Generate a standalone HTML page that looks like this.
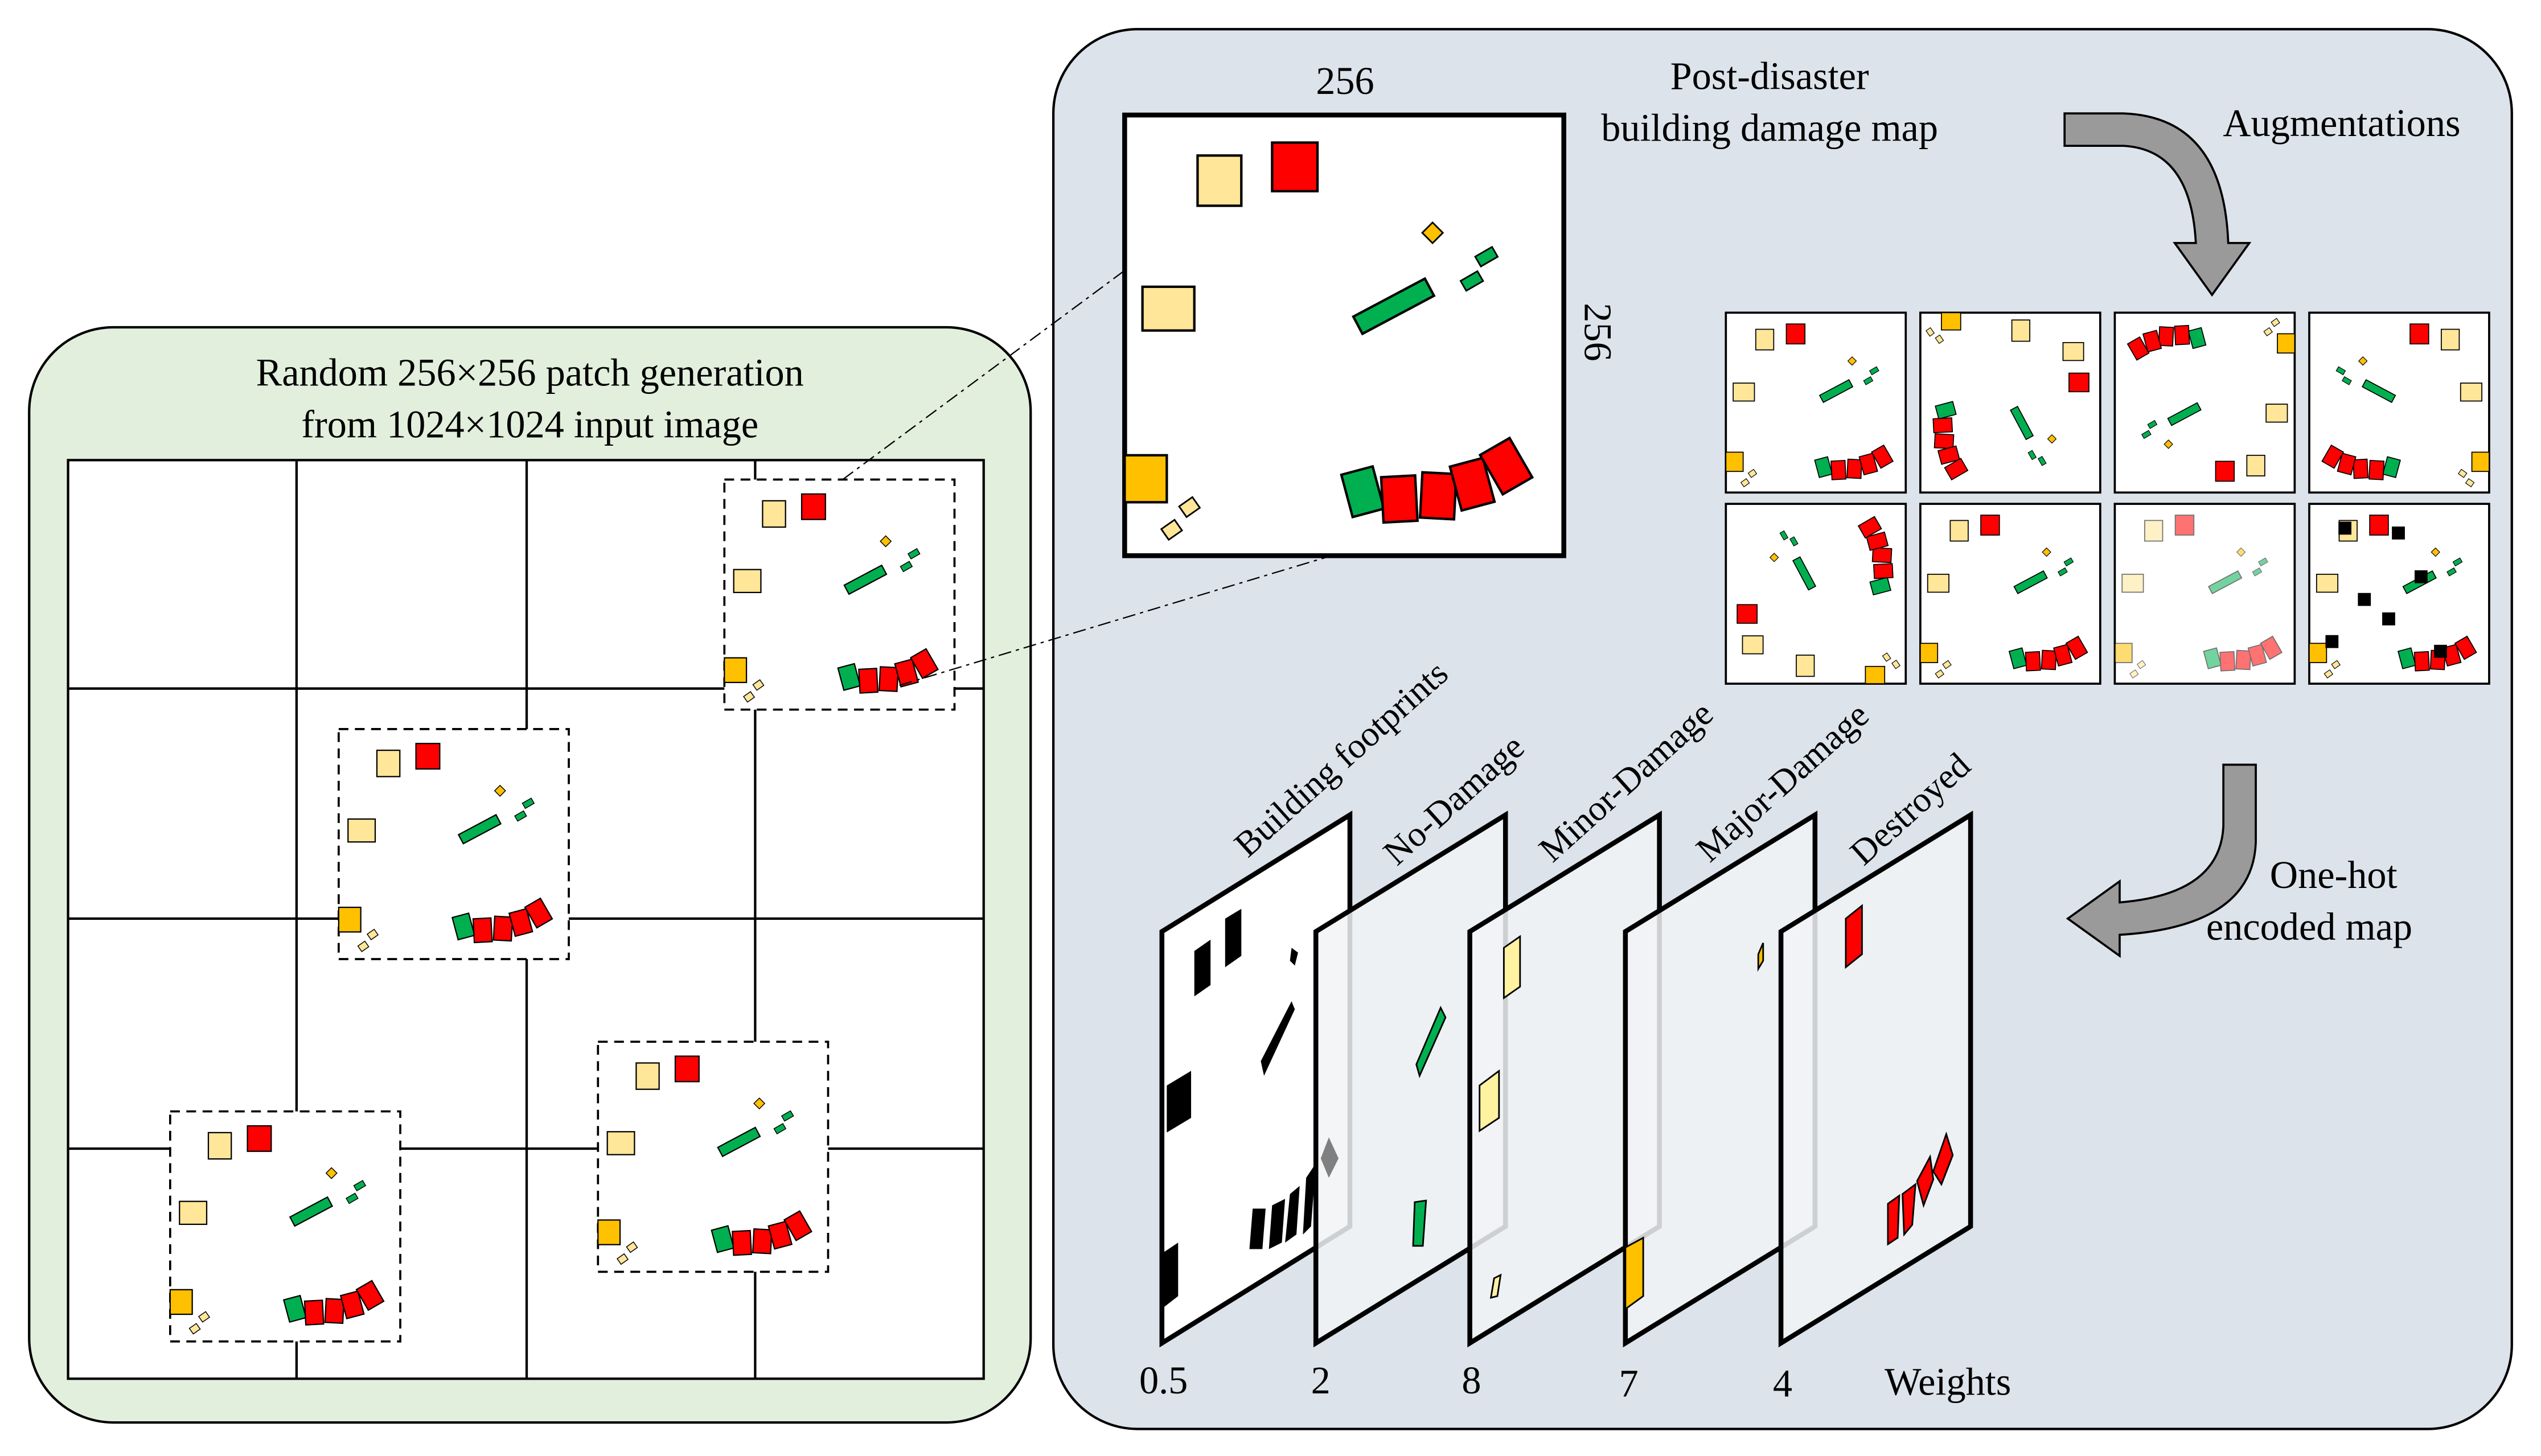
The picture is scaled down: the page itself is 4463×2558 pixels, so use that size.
<!DOCTYPE html>
<html><head><meta charset="utf-8"><style>
html,body{margin:0;padding:0;background:#fff}
svg{display:block}
svg, svg text{font-family:"Liberation Serif","DejaVu Serif",serif}
</style></head><body>
<svg width="4463" height="2558" viewBox="0 0 1568 898.7" preserveAspectRatio="none" xmlns="http://www.w3.org/2000/svg" font-family="Liberation Serif, serif">
<defs>
<g id="m">
 <rect x="45" y="25" width="27" height="31" fill="#ffe699" stroke="#000" stroke-width="1.5"/>
 <rect x="91" y="17" width="28" height="30" fill="#ff0000" stroke="#000" stroke-width="1.5"/>
 <rect x="11" y="106" width="32" height="27" fill="#ffe699" stroke="#000" stroke-width="1.5"/>
 <rect x="186" y="68" width="9" height="9" fill="#ffc000" stroke="#000" transform="rotate(45 190 72)"/>
 <rect x="217" y="84" width="12" height="7" fill="#00b050" stroke="#000" transform="rotate(-30 223 87)"/>
 <rect x="208" y="99" width="12" height="7" fill="#00b050" stroke="#000" transform="rotate(-30 214 102)"/>
 <rect x="141" y="112" width="50" height="12" fill="#00b050" stroke="#000" stroke-width="1.5" transform="rotate(-28 166 118)"/>
 <rect x="0" y="210" width="26" height="29" fill="#ffc000" stroke="#000" stroke-width="1.5"/>
 <rect x="35" y="238" width="10" height="8" fill="#ffe699" stroke="#000" transform="rotate(-35 40 242)"/>
 <rect x="24" y="252" width="10" height="8" fill="#ffe699" stroke="#000" transform="rotate(-35 29 256)"/>
 <rect x="137" y="219" width="20" height="27" fill="#00b050" stroke="#000" stroke-width="1.5" transform="rotate(-15 147 233)"/>
 <rect x="159" y="223" width="21" height="28" fill="#ff0000" stroke="#000" stroke-width="1.5" transform="rotate(-3 169 237)"/>
 <rect x="183" y="221" width="21" height="28" fill="#ff0000" stroke="#000" stroke-width="1.5" transform="rotate(3 193 235)"/>
 <rect x="204" y="214" width="21" height="28" fill="#ff0000" stroke="#000" stroke-width="1.5" transform="rotate(-15 214 228)"/>
 <rect x="225" y="203" width="21" height="28" fill="#ff0000" stroke="#000" stroke-width="1.5" transform="rotate(-30 235 217)"/>
</g>
</defs>

<rect x="18" y="202" width="618" height="676" rx="52" fill="#e2efdd" stroke="#000" stroke-width="1.5"/>
<text x="327" y="238" font-size="24" text-anchor="middle">Random 256×256 patch generation</text>
<text x="327" y="270" font-size="24" text-anchor="middle">from 1024×1024 input image</text>
<rect x="42" y="284" width="565" height="567" fill="#fff" stroke="#000" stroke-width="1.5"/>
<g stroke="#000" stroke-width="1.5">
<line x1="183" y1="284" x2="183" y2="851"/><line x1="325" y1="284" x2="325" y2="851"/><line x1="466" y1="284" x2="466" y2="851"/>
<line x1="42" y1="425" x2="607" y2="425"/><line x1="42" y1="567" x2="607" y2="567"/><line x1="42" y1="709" x2="607" y2="709"/>
</g>
<g fill="#fff" stroke="#000" stroke-width="1.3" stroke-dasharray="6,4">
<rect x="447" y="296" width="142" height="142"/>
<rect x="209" y="450" width="142" height="142"/>
<rect x="105" y="686" width="142" height="142"/>
<rect x="369" y="643" width="142" height="142"/>
</g>
<use href="#m" transform="translate(447,296) scale(0.524)"/>
<use href="#m" transform="translate(209,450) scale(0.524)"/>
<use href="#m" transform="translate(105,686) scale(0.524)"/>
<use href="#m" transform="translate(369,643) scale(0.524)"/>

<rect x="650" y="18" width="900" height="864" rx="52" fill="#dde3ea" stroke="#000" stroke-width="1.5"/>
<g stroke="#000" stroke-width="0.8" stroke-dasharray="8,3,2,3" fill="none">
<line x1="520" y1="296" x2="760" y2="118"/>
<line x1="555" y1="423" x2="825" y2="342"/>
</g>
<rect x="694" y="71" width="271" height="272" fill="#fff" stroke="#000" stroke-width="3"/>
<use href="#m" transform="translate(694,71)"/>
<text x="830" y="58" font-size="24" text-anchor="middle">256</text>
<text x="0" y="0" font-size="24" text-anchor="middle" transform="translate(978,205) rotate(90)">256</text>
<text x="1092" y="55" font-size="24" text-anchor="middle">Post-disaster</text>
<text x="1092" y="87" font-size="24" text-anchor="middle">building damage map</text>
<text x="1445" y="84" font-size="24" text-anchor="middle">Augmentations</text>

<path d="M1274,70 L1310,70 Q1372,72 1375,150 L1388,150 L1365,182 L1342,150 L1355,150 Q1352,92 1310,90 L1274,90 Z" fill="#9a9a9a" stroke="#000" stroke-width="1.3"/>
<path d="M1372,472 L1392,472 L1392,520 Q1390,572 1308,577 L1308,590 L1276,567 L1308,544 L1308,557 Q1370,552 1372,510 Z" fill="#9a9a9a" stroke="#000" stroke-width="1.3"/>
<text x="1440" y="548" font-size="24" text-anchor="middle">One-hot</text>
<text x="1425" y="580" font-size="24" text-anchor="middle">encoded map</text>

<g stroke="#000" stroke-width="1.3" fill="#fff">
<rect x="1065" y="193" width="111" height="111"/><rect x="1185" y="193" width="111" height="111"/><rect x="1305" y="193" width="111" height="111"/><rect x="1425" y="193" width="111" height="111"/>
<rect x="1065" y="311" width="111" height="111"/><rect x="1185" y="311" width="111" height="111"/><rect x="1305" y="311" width="111" height="111"/><rect x="1425" y="311" width="111" height="111"/>
</g>
<use href="#m" transform="translate(1065,193) scale(0.41)"/>
<use href="#m" transform="translate(1296,193) rotate(90) scale(0.41)"/>
<use href="#m" transform="translate(1416,304) rotate(180) scale(0.41)"/>
<use href="#m" transform="translate(1536,193) scale(-0.41,0.41)"/>
<use href="#m" transform="translate(1065,422) rotate(-90) scale(0.41)"/>
<use href="#m" transform="translate(1185,311) scale(0.41)"/>
<use href="#m" transform="translate(1305,311) scale(0.41)" opacity="0.55"/>
<use href="#m" transform="translate(1425,311) scale(0.41)"/>
<g fill="#000"><rect x="1443" y="322" width="8" height="8"/><rect x="1476" y="325" width="8" height="8"/><rect x="1455" y="366" width="8" height="8"/><rect x="1490" y="352" width="8" height="8"/><rect x="1470" y="378" width="8" height="8"/><rect x="1435" y="392" width="8" height="8"/><rect x="1502" y="398" width="8" height="8"/></g>

<polygon points="717,575 833,503 833,757 717,829" fill="#fff" stroke="#000" stroke-width="3"/>
<g fill="#000">
<polygon points="737,587 747,580 747,608 737,615"/><polygon points="756,567 766,561 766,590 756,597"/>
<polygon points="778,655 797,618 799,623 780,664"/>
<polygon points="720,670 735,661 735,690 720,699"/>
<polygon points="773,746 781,746 779,771 771,771"/><polygon points="785,744 793,740 791,767 783,771"/><polygon points="796,737 802,732 800,762 793,767"/><polygon points="806,727 812,718 809,757 804,762"/>
<polygon points="718,773 727,767 727,800 718,807"/><polygon points="797,585 801,588 799,596 796,593"/>
</g>
<polygon points="812,575 929,503 929,757 812,829" fill="#f1f3f6" fill-opacity="0.85" stroke="#000" stroke-width="3"/>
<polygon points="820,702 826,715 820,727 815,715" fill="#808080"/>
<polygon points="874,657 889,622 892,628 876,664" fill="#00b050" stroke="#000"/>
<polygon points="873,742 880,741 878,769 872,769" fill="#00b050" stroke="#000"/>
<polygon points="907,575 1024,503 1024,757 907,829" fill="#f1f3f6" fill-opacity="0.85" stroke="#000" stroke-width="3"/>
<polygon points="928,585 938,578 938,609 928,616" fill="#fff2a0" stroke="#000"/>
<polygon points="913,670 925,661 925,690 913,698" fill="#fff2a0" stroke="#000"/>
<polygon points="922,789 926,787 924,800 920,801" fill="#fff2a0" stroke="#000"/>
<polygon points="1003,575 1120,503 1120,757 1003,829" fill="#f1f3f6" fill-opacity="0.85" stroke="#000" stroke-width="3"/>
<polygon points="1003,770 1014,764 1014,800 1003,808" fill="#ffc000" stroke="#000"/>
<polygon points="1085,589 1088,582 1088,593 1085,598" fill="#ffc000" stroke="#000"/>
<polygon points="1099,575 1216,503 1216,757 1099,829" fill="#f1f3f6" fill-opacity="0.85" stroke="#000" stroke-width="3"/>
<polygon points="1139,567 1149,559 1149,589 1139,597" fill="#ff0000" stroke="#000"/>
<polygon points="1165,743 1172,738 1171,764 1165,768" fill="#ff0000" stroke="#000"/>
<polygon points="1174,737 1182,731 1180,756 1175,762" fill="#ff0000" stroke="#000"/>
<polygon points="1183,729 1191,714 1193,728 1187,744" fill="#ff0000" stroke="#000"/>
<polygon points="1193,723 1201,700 1205,713 1198,731" fill="#ff0000" stroke="#000"/>
<g font-size="22">
<text transform="translate(770,530) rotate(-42)">Building footprints</text>
<text transform="translate(862,535) rotate(-42)">No-Damage</text>
<text transform="translate(958,533) rotate(-42)">Minor-Damage</text>
<text transform="translate(1055,533) rotate(-42)">Major-Damage</text>
<text transform="translate(1150,535) rotate(-42)">Destroyed</text>
</g>
<g font-size="24">
<text x="718" y="860" text-anchor="middle">0.5</text>
<text x="815" y="860" text-anchor="middle">2</text>
<text x="908" y="860" text-anchor="middle">8</text>
<text x="1005" y="862" text-anchor="middle">7</text>
<text x="1100" y="862" text-anchor="middle">4</text>
<text x="1202" y="861" text-anchor="middle">Weights</text>
</g>
</svg>
</body></html>
